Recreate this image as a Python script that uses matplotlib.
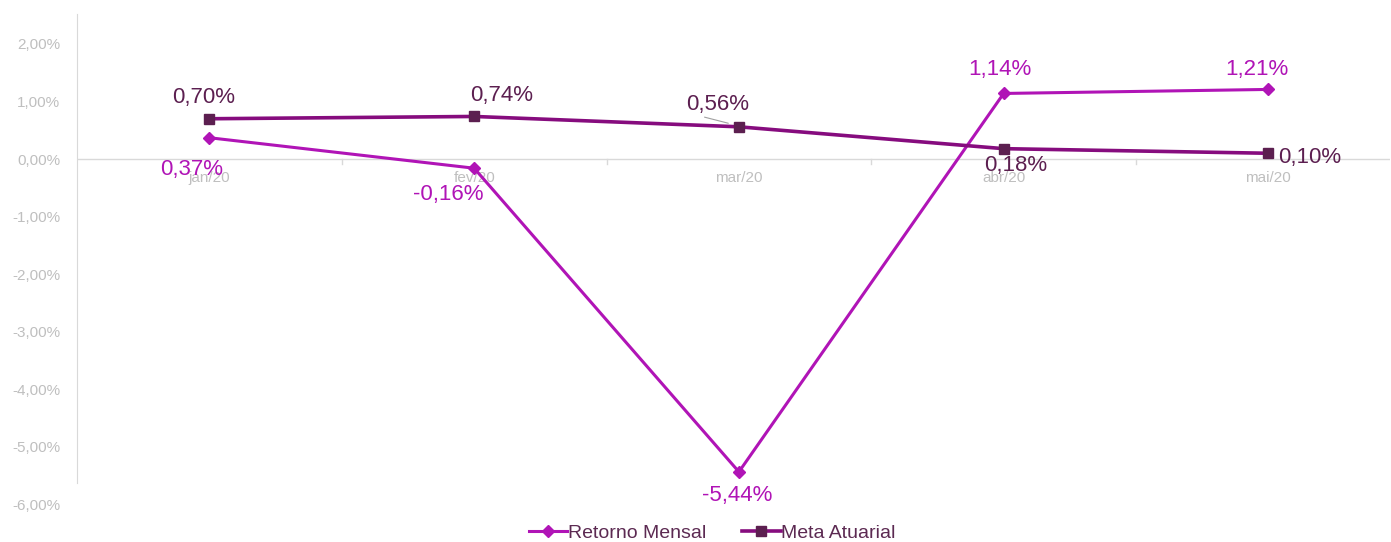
import matplotlib.pyplot as plt
import numpy as np
from matplotlib.ticker import FuncFormatter

plt.rcParams['font.family'] = ['Liberation Sans', 'DejaVu Sans']

meses = ['jan/20', 'fev/20', 'mar/20', 'abr/20', 'mai/20']
retorno = [0.37, -0.16, -5.44, 1.14, 1.21]
meta = [0.70, 0.74, 0.56, 0.18, 0.10]
y_ticks = [-6, -5, -4, -3, -2, -1, 0, 1, 2]

cor_ret = '#b014b6'
cor_meta = '#860c7e'
cor_meta_mk = '#5c1f50'


def pct(v):
    return ('%.2f%%' % v).replace('.', ',')


fig = plt.figure(figsize=(13.91, 5.42), dpi=100)
ax = fig.add_axes([0.0554, 0.070, 0.944, 0.904])

x = np.arange(len(meses))
ax.plot(x, retorno, color=cor_ret, lw=2.2, marker='D', ms=6, mfc=cor_ret, mec=cor_ret,
        label='Retorno Mensal', zorder=3)
ax.plot(x, meta, color=cor_meta, lw=2.6, marker='s', ms=7, mfc=cor_meta_mk, mec=cor_meta_mk,
        label='Meta Atuarial', zorder=4)

# data labels (offsets in points)
off_ret = [(-13, -23), (-19, -19), (-1, -17), (-3, 17), (-8, 14)]
off_meta = [(-4, 15), (20, 15), (-15, 16), (9, -12), (30, -3)]
for i in range(len(meses)):
    ax.annotate(pct(retorno[i]), (x[i], retorno[i]), xytext=off_ret[i], textcoords='offset points',
                ha='center', va='center', fontsize=16, color=cor_ret, zorder=5)
    ax.annotate(pct(meta[i]), (x[i], meta[i]), xytext=off_meta[i], textcoords='offset points',
                ha='center', va='center', fontsize=16, color=cor_meta_mk, zorder=5)
# leader line for mar/20
ax.annotate('', (x[2] - 0.03, meta[2] + 0.05), xytext=(x[2] - 0.14, meta[2] + 0.18),
            arrowprops=dict(arrowstyle='-', color='#a0a0a0', lw=0.8))

ax.set_xlim(-0.5, 4.46)
ax.set_ylim(-6, 2.52)
ax.set_yticks(y_ticks)
ax.yaxis.set_major_formatter(FuncFormatter(lambda v, p: pct(v)))
ax.tick_params(axis='y', length=0, labelsize=11, labelcolor='#bfbfbf', pad=12)

for s in ['top', 'right', 'bottom']:
    ax.spines[s].set_visible(False)
ax.spines['left'].set_color('#d9d9d9')
ax.spines['left'].set_bounds(-5.63, 2.52)
ax.axhline(0, color='#d9d9d9', lw=1, zorder=1)

# category labels and boundary ticks on zero line
ax.set_xticks([])
for i, m in enumerate(meses):
    ax.text(x[i], -0.33, m, ha='center', va='center', fontsize=11, color='#bfbfbf', zorder=2)
for b in np.arange(0.5, 4, 1.0):
    ax.plot([b, b], [0, -0.08], color='#d9d9d9', lw=1, zorder=1)

leg = fig.legend(handles=ax.get_lines()[:2], loc='center', bbox_to_anchor=(0.512, 0.016), ncol=2,
                 frameon=False, fontsize=14, handlelength=2.0, handletextpad=0.05, columnspacing=1.8)
for t in leg.get_texts():
    t.set_color('#5c2a52')

fig.savefig('out.png', dpi=100)
